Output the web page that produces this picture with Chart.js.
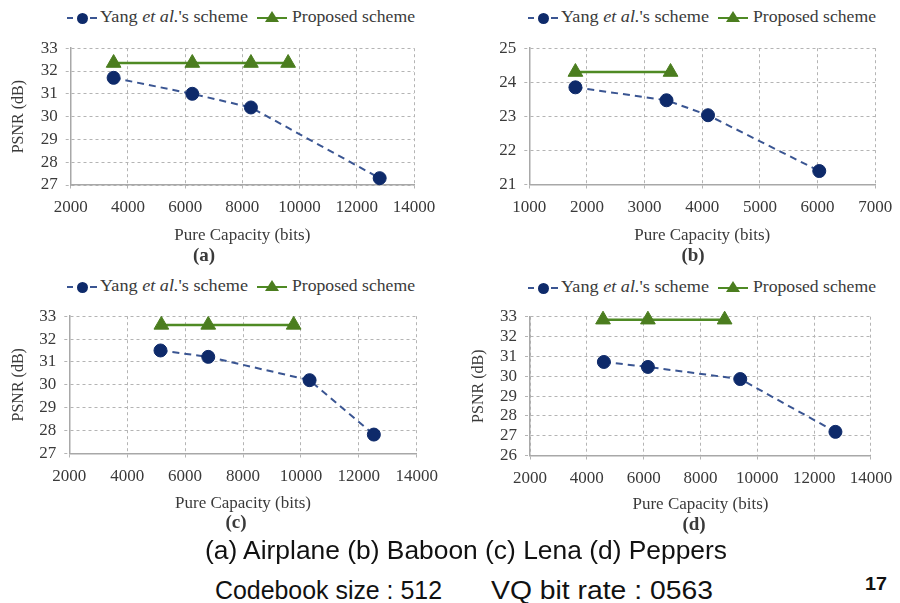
<!DOCTYPE html>
<html><head><meta charset="utf-8">
<script src="https://cdn.jsdelivr.net/npm/chart.js@4.4.0/dist/chart.umd.min.js"></script>
<style>
html,body{margin:0;padding:0;background:#fff;}
#page{position:relative;width:900px;height:603px;overflow:hidden;background:#fff;}
#page canvas{position:absolute;}
.t{position:absolute;white-space:nowrap;line-height:1;transform-origin:0 50%;}
.serif{font-family:"Liberation Serif","Times New Roman",serif;color:#3a3a3a;}
.sans{font-family:"Liberation Sans",Arial,sans-serif;color:#111;}
.blk{position:absolute;}
</style></head><body><div id="page"></div>
<script>
// ---------------- data ----------------
const seriesNames = ["Yang et al.'s scheme", "Proposed scheme"];
const panelLabels = ["(a)", "(b)", "(c)", "(d)"];

// (a) Airplane
const yangA_x = [3500, 6250, 8300, 12800];
const yangA_y = [31.7, 31.0, 30.4, 27.3];
const propA_x = [3500, 6250, 8300, 9600];
const propA_y = [32.35, 32.35, 32.35, 32.35];
// (b) Baboon
const yangB_x = [1800, 3380, 4100, 6030];
const yangB_y = [23.85, 23.47, 23.03, 21.39];
const propB_x = [1800, 3450];
const propB_y = [24.3, 24.3];
// (c) Lena
const yangC_x = [5150, 6800, 10300, 12520];
const yangC_y = [31.5, 31.22, 30.2, 27.82];
const propC_x = [5180, 6800, 9750];
const propC_y = [32.62, 32.62, 32.62];
// (d) Peppers
const yangD_x = [4600, 6150, 9400, 12750];
const yangD_y = [30.72, 30.47, 29.86, 27.2];
const propD_x = [4570, 6150, 8850];
const propD_y = [32.85, 32.85, 32.85];

// tick labels
const xTicksA = [2000, 4000, 6000, 8000, 10000, 12000, 14000];
const xTicksB = [1000, 2000, 3000, 4000, 5000, 6000, 7000];
const xTicksC = [2000, 4000, 6000, 8000, 10000, 12000, 14000];
const xTicksD = [2000, 4000, 6000, 8000, 10000, 12000, 14000];
const yTicksA = [27, 28, 29, 30, 31, 32, 33];
const yTicksB = [21, 22, 23, 24, 25];
const yTicksC = [27, 28, 29, 30, 31, 32, 33];
const yTicksD = [26, 27, 28, 29, 30, 31, 32, 33];

const xTitle = "Pure Capacity (bits)";
const yTitle = "PSNR (dB)";
const captionLine1 = "(a) Airplane (b) Baboon (c) Lena (d) Peppers";
const captionLine2a = "Codebook size : 512";
const captionLine2b = "VQ bit rate : 0563";
const pageNumber = "17";

// ---------------- layout ----------------
const panels = [
  {box:{x:0,y:30,w:450,h:240}, plot:{l:70.7,r:414,t:44.3,b:185}, xT:236, yT:19,
   xt:xTicksA, yt:yTicksA, yx:yangA_x, yy:yangA_y, px:propA_x, py:propA_y,
   leg:{x0:67,y:18}, lab:{cx:204,cy:255}},
  {box:{x:450,y:30,w:450,h:240}, plot:{l:529.3,r:881,t:44.3,b:184.3}, xT:236, yT:28,
   xt:xTicksB, yt:yTicksB, yx:yangB_x, yy:yangB_y, px:propB_x, py:propB_y,
   leg:{x0:528,y:18}, lab:{cx:693,cy:255}},
  {box:{x:0,y:298,w:450,h:225}, plot:{l:69.3,r:416.7,t:314.3,b:453.3}, xT:503.5, yT:19,
   xt:xTicksC, yt:yTicksC, yx:yangC_x, yy:yangC_y, px:propC_x, py:propC_y,
   leg:{x0:67,y:287}, lab:{cx:236,cy:522}},
  {box:{x:450,y:298,w:450,h:225}, plot:{l:530,r:875.3,t:316.7,b:455.7}, xT:505, yT:478.3,
   xt:xTicksD, yt:yTicksD, yx:yangD_x, yy:yangD_y, px:propD_x, py:propD_y,
   leg:{x0:528,y:288}, lab:{cx:694,cy:524}}
];

const page = document.getElementById('page');
const SERIF = '"Liberation Serif","Times New Roman",serif';
Chart.defaults.font.family = SERIF;
Chart.defaults.color = '#3a3a3a';

const NAVY = '#0e2a6a', DASHC = '#3a5592', GREEN = '#4f8a24', GREENF = '#4b7d1f';
const GRID = '#b4b4b4', AXIS = '#a8a8a8';
const TICKF = 17, XTF = 17, YTF = 16;

function pts(xs, ys){ return xs.map((x,i)=>({x:x, y:ys[i]})); }

panels.forEach((p, idx) => {
  const c = document.createElement('canvas');
  c.width = p.box.w; c.height = p.box.h;
  c.style.left = p.box.x + 'px'; c.style.top = p.box.y + 'px';
  c.style.width = p.box.w + 'px'; c.style.height = p.box.h + 'px';
  page.appendChild(c);

  const yW = p.plot.l - p.box.x;
  const xLH = XTF * 1.2;
  const xBottom = p.xT + xLH / 2;
  const xH = xBottom - p.plot.b;
  const padBottom = (p.box.y + p.box.h) - xBottom;
  const yLH = YTF * 1.2;
  const yTitlePad = (p.yT - p.box.x) - yLH / 2;
  const xt = p.xt, yt = p.yt;

  new Chart(c, {
    type: 'scatter',
    data: {
      datasets: [
        {label: seriesNames[0], data: pts(p.yx, p.yy), showLine: true, clip: false,
         borderColor: DASHC, borderWidth: 2, borderDash: [7,5],
         pointRadius: 6.5, pointHoverRadius: 6.5, pointBackgroundColor: NAVY,
         pointBorderColor: NAVY, pointBorderWidth: 1, tension: 0, order: 2},
        {label: seriesNames[1], data: pts(p.px, p.py), showLine: true, clip: false,
         borderColor: GREEN, borderWidth: 2.5,
         pointStyle: 'triangle', pointRadius: 8.5, pointHoverRadius: 8.5,
         pointBackgroundColor: GREENF, pointBorderColor: GREENF, pointBorderWidth: 1,
         tension: 0, order: 1}
      ]
    },
    options: {
      responsive: false, animation: false, devicePixelRatio: 1,
      layout: {padding: {left: 0, top: p.plot.t - p.box.y,
               right: (p.box.x + p.box.w) - p.plot.r, bottom: padBottom}},
      plugins: {legend: {display: false}, tooltip: {enabled: false}},
      scales: {
        x: {
          type: 'linear', min: xt[0], max: xt[xt.length-1],
          afterBuildTicks: s => { s.ticks = xt.map(v => ({value: v})); },
          afterFit: s => { s.height = xH; },
          ticks: {autoSkip: false, maxRotation: 0, padding: 7.8,
                  font: {size: TICKF, family: SERIF}, color: '#3a3a3a', callback: v => String(v)},
          grid: {color: GRID, lineWidth: 1, drawTicks: true, tickLength: 5,
                 tickColor: GRID, tickBorderDash: [3,3]},
          border: {display: true, color: AXIS, width: 1.5, dash: [3,3]},
          title: {display: true, text: xTitle, font: {size: XTF, family: SERIF}, color: '#3a3a3a',
                  padding: {top: 0, bottom: 0}}
        },
        y: {
          type: 'linear', min: yt[0], max: yt[yt.length-1],
          afterBuildTicks: s => { s.ticks = yt.map(v => ({value: v})); },
          afterFit: s => { s.width = yW; },
          ticks: {autoSkip: false, padding: 8, font: {size: TICKF, family: SERIF}, color: '#3a3a3a',
                  callback: v => String(v)},
          grid: {color: GRID, lineWidth: 1, drawTicks: true, tickLength: 5,
                 tickColor: GRID, tickBorderDash: [3,3]},
          border: {display: true, color: AXIS, width: 1.5, dash: [3,3]},
          title: {display: true, text: yTitle, font: {size: YTF, family: SERIF}, color: '#3a3a3a',
                  padding: {top: yTitlePad, bottom: 0}}
        }
      }
    }
  });
});

// ---------------- HTML text (legends, labels, captions) ----------------
function addBlock(css){ const d=document.createElement('div'); d.className='blk'; Object.assign(d.style, css); page.appendChild(d); return d; }
function addText(html, cls, left, top, size, weight, targetW){
  const s = document.createElement('span');
  s.className = 't ' + cls;
  s.innerHTML = html;
  s.style.left = left + 'px'; s.style.top = top + 'px';
  s.style.fontSize = size + 'px';
  if (weight) s.style.fontWeight = weight;
  page.appendChild(s);
  if (targetW) {
    const w = s.getBoundingClientRect().width;
    if (w > 0) s.style.transform = 'scaleX(' + (targetW / w) + ')';
  }
  return s;
}
function addCentered(html, cls, cx, cy, size, weight){
  const s = document.createElement('div');
  s.className = 't ' + cls;
  s.innerHTML = html;
  s.style.left = (cx - 60) + 'px'; s.style.width = '120px'; s.style.textAlign = 'center';
  s.style.top = (cy - size * 0.55) + 'px';
  s.style.fontSize = size + 'px';
  if (weight) s.style.fontWeight = weight;
  page.appendChild(s);
}

panels.forEach((p, idx) => {
  const x0 = p.leg.x0, yc = p.leg.y;
  addBlock({left: x0+'px', top: (yc-1)+'px', width:'6px', height:'2px', background: DASHC});
  addBlock({left: (x0+9.5)+'px', top: (yc-5.5)+'px', width:'11px', height:'11px', borderRadius:'50%', background: NAVY});
  addBlock({left: (x0+23)+'px', top: (yc-1)+'px', width:'7px', height:'2px', background: DASHC});
  const lf = 16.5;
  addText("Yang <i>et al.</i>'s scheme", 'serif', x0+33, yc - lf*0.56, lf, null, 148);
  addBlock({left: (x0+190)+'px', top: (yc-1.25)+'px', width:'30px', height:'2.5px', background: GREEN});
  addBlock({left: (x0+198)+'px', top: (yc-7)+'px', width:'0', height:'0',
            borderLeft:'7px solid transparent', borderRight:'7px solid transparent',
            borderBottom:'11px solid ' + GREENF});
  addText(seriesNames[1], 'serif', x0+225, yc - lf*0.56, lf, null, 123);
  addCentered(panelLabels[idx], 'serif', p.lab.cx, p.lab.cy, 19, 'bold');
});

addText(captionLine1, 'sans', 205, 536.5, 26, null, 522);
addText(captionLine2a, 'sans', 215, 576.5, 26, null, 227);
addText(captionLine2b, 'sans', 491, 576.5, 26, null, 222);
addText(pageNumber, 'sans', 865, 574.8, 18, 'bold', 22);
</script>
</body></html>
